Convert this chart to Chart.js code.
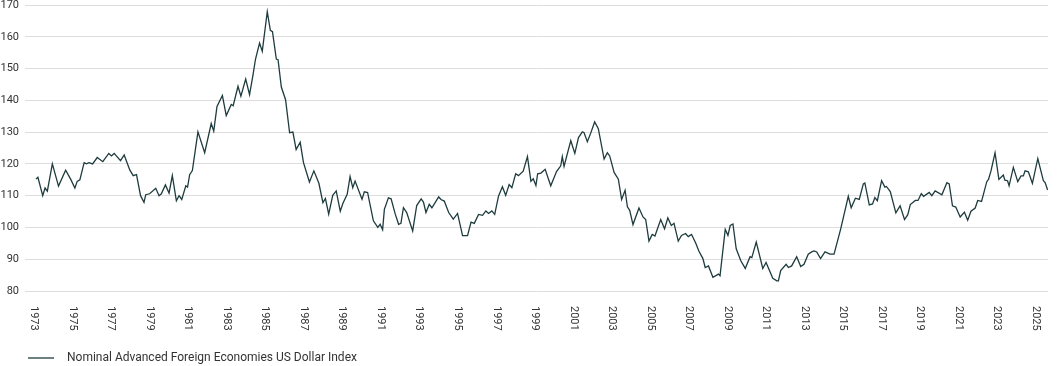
<!DOCTYPE html>
<html>
<head>
<meta charset="utf-8">
<script src="https://cdn.jsdelivr.net/npm/chart.js@4"></script>
<style>
  html, body { margin: 0; padding: 0; background: #fff; }
  #wrap { width: 1058px; height: 366px; }
</style>
</head>
<body>
<div id="wrap"><canvas id="dollarChart"></canvas></div>
<script>
const seriesName = 'Nominal Advanced Foreign Economies US Dollar Index';

// decimal years
const dates = [
    1973.10, 1973.20, 1973.45, 1973.57, 1973.69, 1973.95, 1974.27, 1974.64, 1974.90, 1975.12,
    1975.24, 1975.38, 1975.60, 1975.72, 1975.85, 1976.04, 1976.28, 1976.57, 1976.88, 1977.02,
    1977.16, 1977.49, 1977.68, 1977.97, 1978.15, 1978.32, 1978.53, 1978.71, 1978.80, 1979.00,
    1979.32, 1979.49, 1979.61, 1979.82, 1980.01, 1980.18, 1980.39, 1980.53, 1980.67, 1980.88,
    1980.97, 1981.08, 1981.22, 1981.51, 1981.86, 1982.20, 1982.33, 1982.50, 1982.78, 1982.98,
    1983.24, 1983.34, 1983.59, 1983.74, 1983.99, 1984.19, 1984.37, 1984.50, 1984.71, 1984.85,
    1985.11, 1985.27, 1985.38, 1985.58, 1985.67, 1985.84, 1986.06, 1986.27, 1986.44, 1986.61,
    1986.82, 1986.99, 1987.30, 1987.53, 1987.79, 1988.00, 1988.13, 1988.30, 1988.51, 1988.69,
    1988.90, 1989.04, 1989.26, 1989.41, 1989.55, 1989.67, 1990.03, 1990.15, 1990.32, 1990.41,
    1990.62, 1990.85, 1990.97, 1991.10, 1991.19, 1991.40, 1991.54, 1991.76, 1991.93, 1992.05,
    1992.18, 1992.35, 1992.66, 1992.87, 1993.10, 1993.22, 1993.35, 1993.52, 1993.66, 1994.01,
    1994.13, 1994.30, 1994.53, 1994.77, 1994.99, 1995.25, 1995.51, 1995.69, 1995.86, 1996.08,
    1996.29, 1996.46, 1996.60, 1996.77, 1996.92, 1997.12, 1997.32, 1997.49, 1997.67, 1997.81,
    1998.01, 1998.15, 1998.40, 1998.62, 1998.80, 1998.92, 1999.06, 1999.15, 1999.32, 1999.54,
    1999.83, 2000.13, 2000.35, 2000.43, 2000.52, 2000.87, 2001.08, 2001.27, 2001.47, 2001.56,
    2001.73, 2001.90, 2002.11, 2002.30, 2002.60, 2002.77, 2002.89, 2003.12, 2003.34, 2003.51,
    2003.69, 2003.81, 2003.93, 2004.10, 2004.41, 2004.62, 2004.76, 2004.93, 2005.10, 2005.24,
    2005.54, 2005.74, 2005.91, 2006.09, 2006.23, 2006.45, 2006.62, 2006.83, 2006.97, 2007.14,
    2007.35, 2007.52, 2007.73, 2007.85, 2008.02, 2008.25, 2008.54, 2008.62, 2008.89, 2009.03,
    2009.15, 2009.29, 2009.46, 2009.70, 2009.93, 2010.18, 2010.27, 2010.50, 2010.84, 2011.01,
    2011.36, 2011.57, 2011.65, 2011.77, 2012.05, 2012.17, 2012.34, 2012.60, 2012.81, 2012.98,
    2013.20, 2013.38, 2013.50, 2013.64, 2013.84, 2014.07, 2014.33, 2014.54, 2014.88, 2015.28,
    2015.43, 2015.65, 2015.85, 2016.06, 2016.14, 2016.37, 2016.54, 2016.66, 2016.79, 2017.01,
    2017.18, 2017.26, 2017.46, 2017.75, 2017.97, 2018.20, 2018.37, 2018.50, 2018.76, 2018.90,
    2019.07, 2019.19, 2019.48, 2019.62, 2019.79, 2020.14, 2020.40, 2020.52, 2020.69, 2020.86,
    2021.09, 2021.31, 2021.48, 2021.65, 2021.87, 2022.00, 2022.20, 2022.47, 2022.56, 2022.69,
    2022.90, 2023.10, 2023.33, 2023.41, 2023.55, 2023.63, 2023.85, 2024.08, 2024.25, 2024.37,
    2024.46, 2024.63, 2024.84, 2025.12, 2025.41, 2025.50, 2025.63
];

const values = [
    115.2, 115.8, 110.0, 112.4, 111.4, 120.0, 113.0, 118.0, 115.2, 112.4,
    114.5, 115.0, 120.4, 120.0, 120.4, 120.0, 122.0, 120.7, 123.3, 122.5,
    123.3, 121.0, 122.8, 118.1, 116.3, 116.6, 110.0, 107.9, 110.3, 110.6,
    112.3, 110.0, 110.6, 113.4, 110.8, 116.3, 108.4, 110.0, 108.8, 113.1,
    112.7, 116.6, 117.9, 130.1, 123.5, 132.7, 130.3, 138.1, 141.5, 135.2,
    138.7, 138.3, 144.4, 141.3, 146.7, 141.8, 148.0, 153.0, 158.0, 155.4,
    167.9, 162.0, 161.6, 153.0, 152.8, 144.2, 140.2, 129.8, 130.0, 124.5,
    126.8, 120.4, 114.3, 117.8, 113.9, 107.8, 109.1, 104.2, 110.1, 111.5,
    105.1, 107.6, 110.4, 116.0, 112.5, 114.6, 108.9, 111.2, 111.0, 108.3,
    102.1, 100.0, 101.0, 99.3, 105.7, 109.3, 109.0, 104.1, 101.0, 101.3,
    106.2, 104.7, 98.9, 106.9, 109.0, 108.0, 104.7, 107.3, 106.2, 109.6,
    108.8, 108.3, 104.7, 102.6, 104.4, 97.4, 97.4, 101.7, 101.3, 104.1,
    103.8, 105.2, 104.4, 105.2, 104.1, 109.9, 112.8, 110.1, 113.5, 112.5,
    116.9, 116.3, 117.7, 122.3, 114.5, 115.3, 113.2, 116.9, 117.1, 118.3,
    113.1, 117.6, 119.4, 122.3, 119.2, 127.3, 123.3, 128.3, 130.1, 129.8,
    127.0, 129.6, 133.2, 131.1, 121.5, 123.5, 122.5, 117.3, 115.2, 108.8,
    111.7, 106.5, 105.4, 100.9, 106.1, 103.3, 102.5, 95.7, 97.8, 97.3,
    102.5, 99.6, 103.0, 100.6, 101.3, 95.7, 97.5, 98.1, 97.1, 97.8,
    95.2, 92.6, 90.2, 87.4, 87.9, 84.3, 85.3, 84.8, 99.4, 97.5,
    100.6, 101.1, 93.3, 89.5, 87.1, 90.8, 90.5, 95.4, 87.1, 89.0,
    84.0, 83.2, 83.2, 86.4, 88.4, 87.4, 87.9, 90.8, 87.7, 88.4,
    91.6, 92.3, 92.6, 92.3, 90.2, 92.3, 91.6, 91.6, 99.4, 109.8,
    106.2, 109.2, 108.8, 113.7, 114.0, 107.1, 107.4, 109.4, 108.4, 114.7,
    112.7, 112.9, 111.3, 104.6, 106.8, 102.5, 104.0, 107.2, 108.5, 108.5,
    110.6, 109.8, 111.0, 110.0, 111.5, 110.3, 114.1, 113.7, 106.8, 106.4,
    103.3, 104.8, 102.3, 105.1, 106.1, 108.5, 108.2, 114.4, 115.1, 117.8,
    123.5, 115.1, 116.5, 114.9, 114.7, 113.1, 118.9, 114.4, 116.2, 116.2,
    117.8, 117.5, 113.9, 121.7, 114.7, 114.1, 111.8
];

const yearLabels = [
    1973, 1975, 1977, 1979, 1981, 1983, 1985, 1987, 1989, 1991, 1993, 1995, 1997, 1999,
    2001, 2003, 2005, 2007, 2009, 2011, 2013, 2015, 2017, 2019, 2021, 2023, 2025
];

const lineColor = '#1e3b3d';
const textColor = '#333333';

// year labels read top to bottom, plus the legend line under the chart
const extras = {
    id: 'extras',
    afterDraw(chart) {
        const ctx = chart.ctx;
        const xScale = chart.scales.x;
        const area = chart.chartArea;
        ctx.save();
        ctx.fillStyle = textColor;
        ctx.font = '11px Roboto';
        ctx.textAlign = 'left';
        ctx.textBaseline = 'middle';
        yearLabels.forEach(year => {
            const px = xScale.getPixelForValue(year);
            ctx.save();
            ctx.translate(px, area.bottom + 15);
            ctx.rotate(Math.PI / 2);
            ctx.fillText(String(year), 0, 0);
            ctx.restore();
        });

        //legend
        ctx.strokeStyle = lineColor;
        ctx.lineWidth = 1.3;
        ctx.beginPath();
        ctx.moveTo(28, 358);
        ctx.lineTo(54, 358);
        ctx.stroke();
        ctx.font = '12px Roboto';
        ctx.fillText(seriesName, 67, 358);
        ctx.restore();
    }
};

const dollarChart = new Chart(document.getElementById('dollarChart'), {
    type: 'line',
    data: {
        datasets: [{
            label: seriesName,
            data: dates.map((d, i) => ({ x: d, y: values[i] })),
            borderColor: lineColor,
            borderWidth: 1.3,
            pointRadius: 0,
            tension: 0,
            fill: false
        }]
    },
    options: {
        responsive: true,
        maintainAspectRatio: false,
        animation: false,
        layout: {
            padding: { top: 5, right: 10, left: 0, bottom: 0 }
        },
        plugins: {
            legend: { display: false },
            tooltip: { enabled: false }
        },
        scales: {
            x: {
                type: 'linear',
                min: 1972.53,
                max: 2025.65,
                grid: { display: false },
                border: { display: false },
                ticks: { display: false },
                afterFit(scale) {
                    scale.height = 75;
                }
            },
            y: {
                min: 80,
                max: 170,
                ticks: {
                    stepSize: 10,
                    padding: 6,
                    color: textColor,
                    font: { family: 'Roboto', size: 11 }
                },
                grid: { color: '#dddddd', drawTicks: false },
                border: { display: false },
                afterFit(scale) {
                    scale.width = 25;
                    // let the top label overhang so the plot starts near the top edge
                    scale.paddingTop = 0;
                    scale.paddingBottom = 0;
                }
            }
        }
    },
    plugins: [extras]
});
</script>
</body>
</html>
